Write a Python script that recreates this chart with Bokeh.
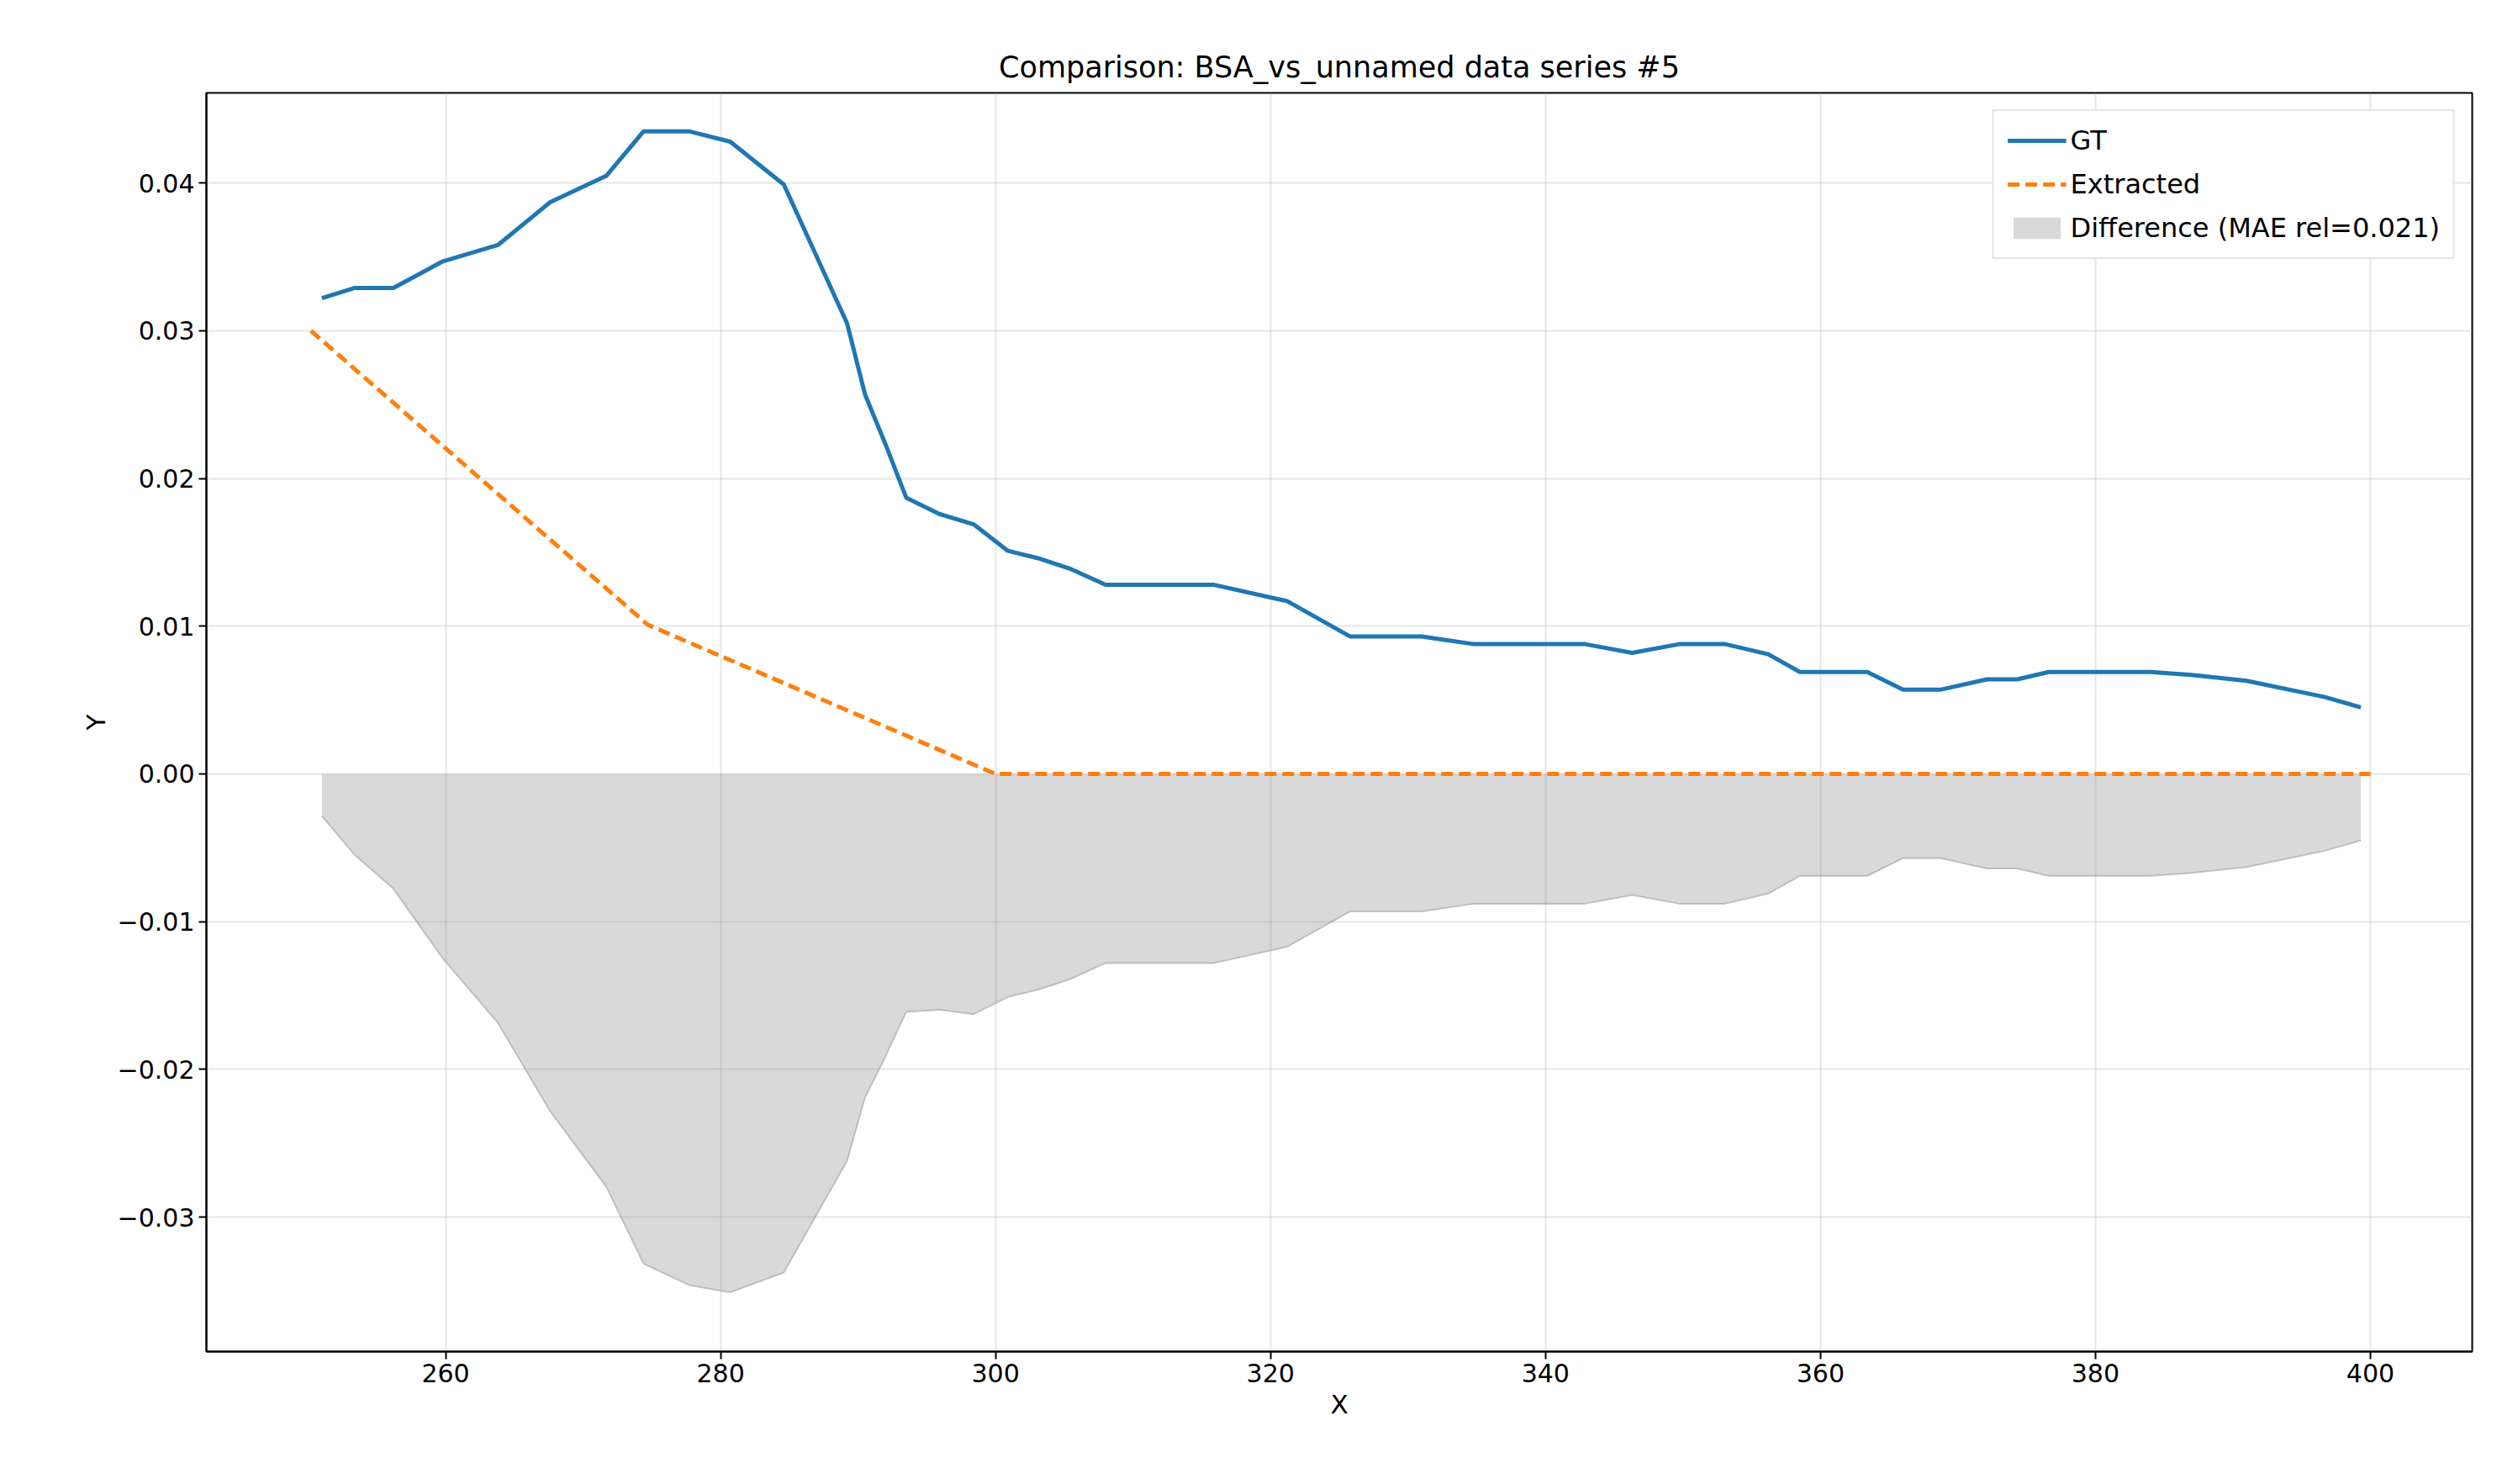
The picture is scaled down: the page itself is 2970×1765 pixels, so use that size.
import numpy as np
from bokeh.plotting import figure
from bokeh.models import ColumnDataSource, Legend, LegendItem, CustomJSTickFormatter, FixedTicker
from bokeh.embed import file_html
from bokeh.resources import INLINE

# GT series
gt_x = [251.0, 253.4, 256.2, 259.8, 263.8, 267.6, 271.7, 274.4, 277.7, 280.7,
        284.6, 286.9, 289.2, 290.5, 292.0, 293.5, 295.9, 298.4, 300.9, 303.1,
        305.4, 308.0, 312.1, 315.9, 321.2, 325.8, 331.0, 334.7, 342.8, 346.3,
        349.8, 353.0, 356.2, 358.5, 363.4, 366.0, 368.7, 372.1, 374.3, 376.6,
        384.0, 387.0, 391.0, 396.7, 399.3]
gt_y = [0.0322, 0.0329, 0.0329, 0.0347, 0.0358, 0.0387, 0.0405, 0.0435, 0.0435, 0.0428,
        0.0399, 0.0352, 0.0305, 0.0257, 0.0223, 0.0187, 0.0176, 0.0169, 0.0151, 0.0146,
        0.0139, 0.0128, 0.0128, 0.0128, 0.0117, 0.0093, 0.0093, 0.0088, 0.0088, 0.0082,
        0.0088, 0.0088, 0.0081, 0.0069, 0.0069, 0.0057, 0.0057, 0.0064, 0.0064, 0.0069,
        0.0069, 0.0067, 0.0063, 0.0052, 0.0045]

# extracted series
ex_x = [250.2, 274.7, 300.0, 400.0]
ex_y = [0.0300, 0.0101, 0.0, 0.0]

# difference = extracted - GT at the GT x positions
diff = np.interp(gt_x, ex_x, ex_y) - np.array(gt_y)

p = figure(width=2950, height=1745, output_backend="svg", toolbar_location=None,
           x_range=(242.6, 407.4), y_range=(-0.0391, 0.0461),
           title="Comparison: BSA_vs_unnamed data series #5",
           min_border_left=245, min_border_right=10, min_border_top=110, min_border_bottom=138)
p.title.align = "center"
p.title.text_font = "DejaVu Sans"
p.title.text_font_size = "35px"
p.title.text_font_style = "normal"
p.title.text_color = "black"
p.title.standoff = 22

src = ColumnDataSource(dict(x=gt_x, y0=np.zeros(len(gt_x)), y1=diff))
fill = p.varea(x="x", y1="y0", y2="y1", source=src, fill_color="gray", fill_alpha=0.3)
p.line(x="x", y="y1", source=src, line_color="gray", line_alpha=0.4, line_width=2)
gt = p.line(gt_x, gt_y, line_color="#1f77b4", line_width=5)
ex = p.line(ex_x, ex_y, line_color="#ff7f0e", line_width=5, line_dash="14 7")

legend = Legend(items=[LegendItem(label="GT", renderers=[gt]),
                       LegendItem(label="Extracted", renderers=[ex]),
                       LegendItem(label="Difference (MAE rel=0.021)", renderers=[fill])],
                location="top_right", label_text_font="DejaVu Sans", label_text_font_size="32px",
                label_text_color="black",
                border_line_color="#cccccc", border_line_width=2, glyph_width=70, glyph_height=32,
                padding=16, spacing=14, margin=20)
p.add_layout(legend)

p.xaxis.ticker = FixedTicker(ticks=[260, 280, 300, 320, 340, 360, 380, 400])
p.yaxis.ticker = FixedTicker(ticks=[-0.03, -0.02, -0.01, 0.0, 0.01, 0.02, 0.03, 0.04])
p.yaxis.formatter = CustomJSTickFormatter(code="""
if (Math.abs(tick) < 1e-9) return '0.00';
return tick.toFixed(2).replace('-', '\u2212');
""")
p.xaxis.axis_label = "X"
p.yaxis.axis_label = "Y"
for ax in [p.xaxis, p.yaxis]:
    ax.axis_label_text_font = "DejaVu Sans"
    ax.axis_label_text_font_size = "31px"
    ax.axis_label_text_font_style = "normal"
    ax.axis_label_text_color = "black"
    ax.major_label_text_font = "DejaVu Sans"
    ax.major_label_text_font_size = "30px"
    ax.major_label_text_color = "black"
    ax.major_tick_out = 9
    ax.major_tick_in = 0
    ax.major_tick_line_width = 2
    ax.minor_tick_line_color = None
    ax.axis_line_width = 2
p.outline_line_color = "black"
p.outline_line_width = 2
p.grid.grid_line_color = "#b0b0b0"
p.grid.grid_line_alpha = 0.3
p.grid.grid_line_width = 2

open("out.html", "w").write(file_html(p, INLINE))
